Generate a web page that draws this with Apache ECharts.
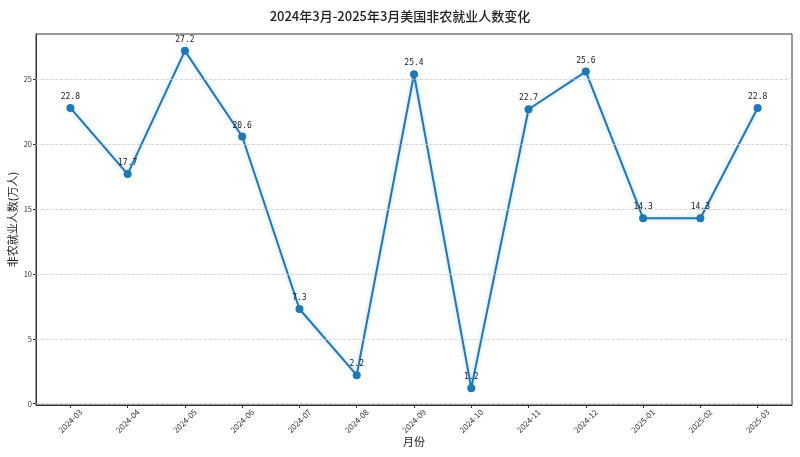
<!DOCTYPE html>
<html><head><meta charset="utf-8">
<script src="https://cdn.jsdelivr.net/npm/echarts@6/dist/echarts.min.js"></script>
<style>html,body{margin:0;padding:0;background:#fff}#c{width:800px;height:457px}</style>
</head><body><div id="c"></div>
<script>
const months = ['2024-03','2024-04','2024-05','2024-06','2024-07','2024-08','2024-09','2024-10','2024-11','2024-12','2025-01','2025-02','2025-03'];
const jobs = [22.8, 17.7, 27.2, 20.6, 7.3, 2.2, 25.4, 1.2, 22.7, 25.6, 14.3, 14.3, 22.8];
const yTicks = [0, 5, 10, 15, 20, 25];
const xIdx = months.map((m, i) => i);

const font = '"Noto Sans CJK SC", sans-serif';
const chart = echarts.init(document.getElementById('c'));
chart.setOption({
  animation: false,
  title: {
    text: '2024年3月-2025年3月美国非农就业人数变化',
    left: 'center', top: 5,
    textStyle: { fontFamily: font, fontSize: 13, fontWeight: 500, color: '#222' }
  },
  grid: { left: 36, right: 8, top: 34, bottom: 52, outerBoundsMode: 'none', containLabel: false,
          show: true, borderColor: '#333', borderWidth: 1, backgroundColor: 'transparent' },
  xAxis: {
    type: 'value', min: -0.6, max: 12.6,
    name: '月份', nameLocation: 'middle', nameGap: 31, nameMoveOverlap: false,
    nameTextStyle: { fontFamily: font, fontSize: 11, color: '#222' },
    axisLine: { show: true, onZero: false, lineStyle: { color: '#333' } },
    axisTick: { show: true, customValues: xIdx, length: 3, lineStyle: { color: '#333' } },
    axisLabel: {
      customValues: xIdx, rotate: 45, fontSize: 8, color: '#333', fontFamily: font,
      align: 'center', verticalAlign: 'middle', margin: 16,
      formatter: v => months[Math.round(v)]
    },
    splitLine: { show: false }
  },
  yAxis: {
    type: 'value', min: -0.1, max: 28.5,
    name: '非农就业人数(万人)', nameLocation: 'middle', nameGap: 18, nameMoveOverlap: false,
    nameTextStyle: { fontFamily: font, fontSize: 11, color: '#222' },
    axisLine: { show: true, onZero: false, lineStyle: { color: '#333' } },
    axisTick: { show: true, customValues: yTicks, length: 3, lineStyle: { color: '#333' } },
    axisLabel: { customValues: yTicks, fontSize: 7.5, color: '#333', fontFamily: font, margin: 4 },
    splitLine: { show: false }
  },
  series: [{
    type: 'line',
    data: jobs.map((v, i) => [i, v]),
    symbol: 'circle', symbolSize: 8,
    itemStyle: { color: '#1f77b4' },
    lineStyle: { color: '#1f77b4', width: 2, shadowColor: 'rgba(31,119,180,0.35)', shadowBlur: 4 },
    label: { show: true, position: 'top', distance: 3, fontSize: 8, color: '#222', fontFamily: '"DejaVu Sans Mono", monospace' },
    markLine: {
      silent: true, symbol: 'none', label: { show: false },
      lineStyle: { color: '#ccc', type: 'dashed', width: 0.8 },
      data: yTicks.map(t => ({ yAxis: t }))
    },
    z: 3
  }]
});
</script></body></html>
